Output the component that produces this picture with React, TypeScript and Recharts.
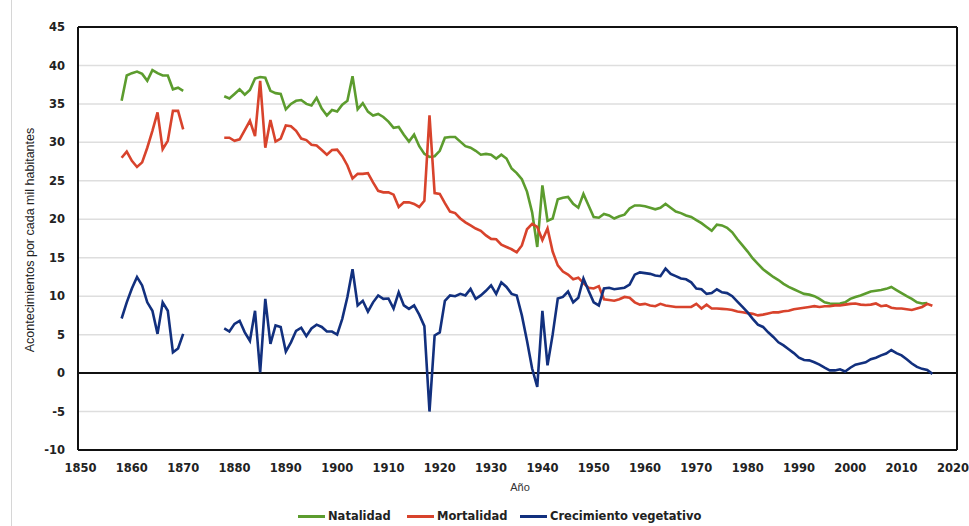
import { LineChart, Line, XAxis, YAxis, CartesianGrid, ReferenceLine } from 'recharts';

// first stretch, 1858-1870
const years1 = [1858, 1859, 1860, 1861, 1862, 1863, 1864, 1865, 1866, 1867, 1868, 1869, 1870];
const natalidad1 = [35.4, 38.7, 39.0, 39.2, 38.9, 38.0, 39.4, 39.0, 38.7, 38.7, 36.9, 37.1, 36.7];
const mortalidad1 = [28.0, 28.8, 27.6, 26.8, 27.4, 29.3, 31.5, 33.9, 29.1, 30.2, 34.1, 34.1, 31.7];
const crecimiento1 = [7.1, 9.2, 11.0, 12.5, 11.4, 9.2, 8.1, 5.1, 9.2, 8.1, 2.7, 3.2, 5.1];

// no data 1871-1877
const gapYears = [1871, 1872, 1873, 1874, 1875, 1876, 1877];

// second stretch, from 1878
const startYear2 = 1878;
const natalidad2 = [
  36.0, 35.7, 36.3, 36.9, 36.2, 36.8, 38.3, 38.5, 38.4, 36.7,
  36.4, 36.3, 34.3, 35.0, 35.4, 35.5, 35.0, 34.8, 35.8, 34.4,
  33.5, 34.2, 34.0, 34.9, 35.4, 38.6, 34.3, 35.1, 34.0, 33.5,
  33.7, 33.3, 32.7, 31.9, 32.0, 31.0, 30.1, 31.0, 29.5, 28.5,
  28.1, 28.2, 28.9, 30.6, 30.7, 30.7, 30.1, 29.5, 29.3, 28.9,
  28.4, 28.5, 28.4, 27.9, 28.4, 27.9, 26.6, 26.0, 25.2, 23.6,
  20.9, 16.4, 24.4, 19.8, 20.1, 22.6, 22.8, 22.9, 22.0, 21.5,
  23.3, 21.8, 20.3, 20.2, 20.7, 20.5, 20.1, 20.4, 20.6, 21.4,
  21.8, 21.8, 21.7, 21.5, 21.3, 21.5, 22.0, 21.5, 21.0, 20.8,
  20.5, 20.3, 19.9, 19.5, 19.0, 18.5, 19.3, 19.2, 18.9, 18.3,
  17.4, 16.6, 15.8, 14.9, 14.2, 13.5, 13.0, 12.5, 12.1, 11.6,
  11.2, 10.9, 10.6, 10.3, 10.2, 10.0, 9.65, 9.2, 9.05, 9.0,
  9.05, 9.2, 9.65, 9.9, 10.1, 10.35, 10.6, 10.7, 10.8, 10.95,
  11.2, 10.8, 10.4, 10.0, 9.65, 9.2, 9.05, 9.1,
];
const mortalidad2 = [
  30.6, 30.6, 30.2, 30.4, 31.6, 32.8, 30.8, 38.0, 29.3, 32.9,
  30.1, 30.5, 32.2, 32.1, 31.5, 30.5, 30.3, 29.7, 29.6, 29.0,
  28.4, 29.0, 29.05, 28.2, 27.0, 25.3, 25.9, 25.9, 26.0, 24.8,
  23.7, 23.5, 23.5, 23.2, 21.6, 22.2, 22.2, 22.0, 21.6, 22.4,
  33.5, 23.4, 23.3, 22.1, 21.0, 20.8, 20.1, 19.6, 19.2, 18.8,
  18.5, 17.9, 17.45, 17.4, 16.7, 16.4, 16.1, 15.7, 16.6, 18.7,
  19.4, 19.0, 17.3, 18.8, 15.8, 14.0, 13.2, 12.8, 12.2, 12.4,
  11.7, 11.1, 11.0, 11.3, 9.6, 9.5, 9.4, 9.6, 9.9, 9.8,
  9.2, 8.9, 9.0, 8.8, 8.7, 9.0, 8.8, 8.7, 8.6, 8.6,
  8.6, 8.6, 9.0, 8.4, 8.9, 8.4, 8.4, 8.35, 8.3, 8.2,
  8.0, 7.9, 7.8, 7.7, 7.5, 7.6, 7.75, 7.9, 7.9, 8.05,
  8.1, 8.3, 8.4, 8.5, 8.6, 8.7, 8.6, 8.7, 8.7, 8.8,
  8.8, 8.9, 9.0, 9.05, 8.9, 8.85, 8.9, 9.05, 8.7, 8.8,
  8.5, 8.4, 8.4, 8.3, 8.2, 8.4, 8.6, 9.0, 8.75,
];
const crecimiento2 = [
  5.8, 5.4, 6.4, 6.8, 5.3, 4.2, 8.1, 0.1, 9.65, 3.8,
  6.2, 6.0, 2.8, 4.0, 5.5, 5.9, 4.8, 5.8, 6.3, 6.0,
  5.4, 5.4, 5.0, 7.05, 9.9, 13.5, 8.8, 9.4, 8.0, 9.2,
  10.1, 9.65, 9.7, 8.4, 10.5, 8.8, 8.35, 8.8, 7.6, 6.1,
  -5.0, 4.9, 5.3, 9.4, 10.1, 10.0, 10.3, 10.1, 10.95, 9.65,
  10.1, 10.7, 11.4, 10.3, 11.8, 11.2, 10.3, 10.1, 7.5, 4.2,
  0.6, -1.8, 8.1, 1.0, 5.0, 9.7, 9.9, 10.6, 9.2, 9.8,
  12.3, 10.7, 9.2, 8.8, 11.0, 11.1, 10.9, 11.0, 11.1, 11.5,
  12.8, 13.1, 13.0, 12.9, 12.7, 12.6, 13.6, 12.9, 12.6, 12.3,
  12.2, 11.8, 11.0, 10.9, 10.3, 10.4, 10.9, 10.5, 10.4, 10.0,
  9.3, 8.6, 7.9, 7.05, 6.3, 6.0, 5.3, 4.7, 4.0, 3.6,
  3.1, 2.6, 2.0, 1.7, 1.65, 1.4, 1.1, 0.7, 0.35, 0.35,
  0.5, 0.2, 0.7, 1.1, 1.25, 1.4, 1.8, 2.0, 2.3, 2.55,
  3.0, 2.6, 2.3, 1.8, 1.25, 0.8, 0.55, 0.4, -0.1,
];

const xTicks = [1850, 1860, 1870, 1880, 1890, 1900, 1910, 1920, 1930, 1940, 1950, 1960, 1970, 1980, 1990, 2000, 2010, 2020];
const yTicks = [-10, -5, 0, 5, 10, 15, 20, 25, 30, 35, 40, 45];
const X_MIN = 1849.5;
const X_MAX = 2020.8;

const GREEN = '#5c9c2e';
const RED = '#d8432c';
const BLUE = '#12307e';

type Row = { year: number; natalidad: number | null; mortalidad: number | null; crecimiento: number | null };

const data: Row[] = [];
years1.forEach((y, i) => data.push({ year: y, natalidad: natalidad1[i], mortalidad: mortalidad1[i], crecimiento: crecimiento1[i] }));
gapYears.forEach((y) => data.push({ year: y, natalidad: null, mortalidad: null, crecimiento: null }));
for (let i = 0; i < mortalidad2.length; i++) {
  data.push({
    year: startYear2 + i,
    natalidad: i < natalidad2.length ? natalidad2[i] : null,
    mortalidad: mortalidad2[i],
    crecimiento: crecimiento2[i],
  });
}

const tickStyle = { fontFamily: 'DejaVu Sans', fontWeight: 'bold' as const, fontSize: 11.5, fill: '#222' };

const legendItems = [
  { name: 'Natalidad', color: GREEN, left: 298 },
  { name: 'Mortalidad', color: RED, left: 407 },
  { name: 'Crecimiento vegetativo', color: BLUE, left: 520 },
];

export default function App() {
  return (
    <div style={{ position: 'absolute', left: 0, top: 0, width: 969, height: 526, background: '#fff', overflow: 'hidden' }}>
      <div style={{ position: 'absolute', left: 11, top: 0, width: 1, height: 526, background: '#d6d6d6' }} />
      <LineChart width={969} height={526} data={data} margin={{ top: 27, right: 12, bottom: 46, left: 18 }}>
        <CartesianGrid horizontal vertical={false} stroke="#dedede" strokeWidth={1.5} />
        <XAxis
          dataKey="year"
          type="number"
          domain={[X_MIN, X_MAX]}
          allowDataOverflow
          ticks={xTicks}
          height={30}
          tickLine={false}
          tickSize={6}
          tickMargin={8}
          axisLine={{ stroke: '#111', strokeWidth: 2 }}
          tick={tickStyle}
          interval={0}
        />
        <YAxis
          type="number"
          domain={[-10, 45]}
          ticks={yTicks}
          width={60}
          tickLine={false}
          tickSize={6}
          tickMargin={7}
          axisLine={{ stroke: '#111', strokeWidth: 2 }}
          tick={tickStyle}
          interval={0}
        />
        <ReferenceLine y={45} stroke="#111" strokeWidth={2} />
        <ReferenceLine x={X_MAX} stroke="#111" strokeWidth={2} />
        <ReferenceLine y={0} stroke="#111" strokeWidth={2} />
        <Line type="linear" dataKey="natalidad" stroke={GREEN} strokeWidth={2.6} dot={false} connectNulls={false} isAnimationActive={false} />
        <Line type="linear" dataKey="mortalidad" stroke={RED} strokeWidth={2.6} dot={false} connectNulls={false} isAnimationActive={false} />
        <Line type="linear" dataKey="crecimiento" stroke={BLUE} strokeWidth={2.6} dot={false} connectNulls={false} isAnimationActive={false} />
      </LineChart>
      <div
        style={{
          position: 'absolute', left: 30, top: 240, transform: 'translate(-50%, -50%) rotate(-90deg)',
          whiteSpace: 'nowrap', fontFamily: 'Liberation Sans', fontSize: 12.5, color: '#222',
        }}
      >
        Acontecimientos por cada mil habitantes
      </div>
      <div style={{ position: 'absolute', left: 520, top: 487, transform: 'translate(-50%, -50%)', fontFamily: 'Liberation Sans', fontSize: 11, color: '#333' }}>
        Año
      </div>
      {legendItems.map((it) => (
        <div key={it.name} style={{ position: 'absolute', left: it.left, top: 507, height: 18, display: 'flex', alignItems: 'center', whiteSpace: 'nowrap' }}>
          <span style={{ display: 'inline-block', width: 27, height: 3, background: it.color, marginRight: 3 }} />
          <span style={{ fontFamily: 'DejaVu Sans', fontWeight: 'bold', fontSize: 11.5, color: '#222' }}>{it.name}</span>
        </div>
      ))}
    </div>
  );
}
